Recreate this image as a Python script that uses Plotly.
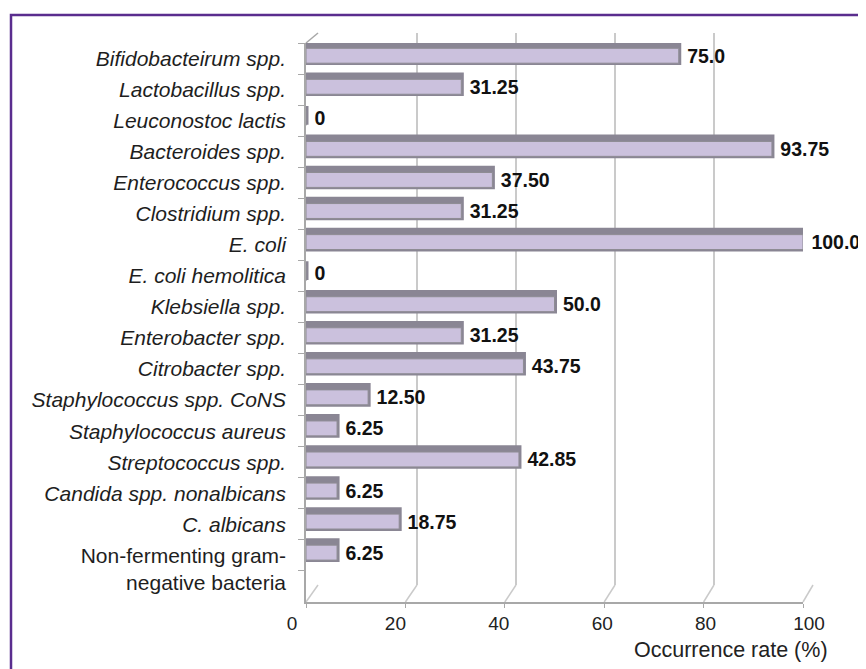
import plotly.graph_objects as go

categories = [
    "Bifidobacteirum spp.", "Lactobacillus spp.", "Leuconostoc lactis", "Bacteroides spp.",
    "Enterococcus spp.", "Clostridium spp.", "E. coli", "E. coli hemolitica",
    "Klebsiella spp.", "Enterobacter spp.", "Citrobacter spp.", "Staphylococcus spp. CoNS",
    "Staphylococcus aureus", "Streptococcus spp.", "Candida spp. nonalbicans", "C. albicans",
    "Non-fermenting gram-negative bacteria",
]
values = [75.0, 31.25, 0, 93.75, 37.50, 31.25, 100.0, 0, 50.0, 31.25, 43.75, 12.50, 6.25,
          42.85, 6.25, 18.75, 6.25]
value_labels = ["75.0", "31.25", "0", "93.75", "37.50", "31.25", "100.0", "0", "50.0", "31.25",
                "43.75", "12.50", "6.25", "42.85", "6.25", "18.75", "6.25"]
tick_values = [0, 20, 40, 60, 80, 100]

W, H = 866, 669
OFF = 8  # page body margin
FONT = "Liberation Sans, Arial, sans-serif"

def px(x):
    return (x - OFF) / W

def py(y):
    return 1 - (y - OFF) / H

# pixel extents (in the screenshot) of the pseudo-3D frame
XF = (306, 803)   # front (bars)
XB = (318, 813)   # back wall (grid)
XL = (292, 809)   # tick labels
YF = (43, 602)
YB = (33, 585)

tick_text = []
for c in categories:
    if c.startswith("Non-fermenting"):
        tick_text.append(" <br>Non-fermenting gram-<br>negative bacteria")
    else:
        tick_text.append("<i>" + c + "</i>")

fig = go.Figure()

# back-wall grid subplot (drawn first, below the bars)
fig.add_trace(go.Scatter(x=[0], y=[0], xaxis="x", yaxis="y", mode="markers",
                         marker=dict(opacity=0), hoverinfo="skip", showlegend=False))
# shadow (3D top/end) bar
fig.add_trace(go.Bar(
    x=values, y=categories, orientation="h", xaxis="x2", yaxis="y2",
    width=0.6, offset=-0.47,
    marker=dict(color="#8a8694", line=dict(color="#8a8694", width=5)),
    hoverinfo="skip", showlegend=False,
))
# front face
fig.add_trace(go.Bar(
    x=values, y=categories, orientation="h", xaxis="x2", yaxis="y2",
    width=0.48, offset=-0.33,
    marker=dict(color="#cbc1dd", line=dict(color="#8e8c94", width=1)),
    text=value_labels, texttemplate="\u00a0%{text}", textposition="outside",
    constraintext="none", cliponaxis=False,
    textfont=dict(family=FONT, size=19.5, color="#111111", weight="bold"),
    showlegend=False,
))
# tick-label axis
fig.add_trace(go.Scatter(x=[0], y=[categories[0]], xaxis="x3", yaxis="y2", mode="markers",
                         marker=dict(opacity=0), hoverinfo="skip", showlegend=False))

fig.update_layout(
    template="none",
    width=W, height=H,
    margin=dict(l=0, r=0, t=0, b=0, autoexpand=False),
    paper_bgcolor="white", plot_bgcolor="rgba(0,0,0,0)",
    barmode="overlay",
    font=dict(family=FONT, size=19, color="#222222"),
    xaxis=dict(domain=[px(XB[0]), px(XB[1])], range=[0, 100], anchor="y",
               showgrid=True, gridcolor="#cacaca", gridwidth=2, tickvals=tick_values,
               showticklabels=False, zeroline=False, showline=False, ticks="", automargin=False),
    yaxis=dict(domain=[py(YB[1]), py(YB[0])], range=[0, 1], anchor="x",
               showgrid=False, showticklabels=False, zeroline=False, showline=False, ticks="",
               automargin=False),
    xaxis2=dict(domain=[px(XF[0]), px(XF[1])], range=[0, 100], showgrid=False, zeroline=False,
                showline=True, linecolor="#a8a8a8", linewidth=1.5, ticks="outside",
                tickvals=tick_values, ticklen=4, tickcolor="#a8a8a8", showticklabels=False,
                anchor="y2", automargin=False),
    yaxis2=dict(domain=[py(YF[1]), py(YF[0])], type="category", categoryarray=categories,
                range=[17.5, -0.5], tickvals=categories, ticktext=tick_text,
                showgrid=False, zeroline=False, showline=True, linecolor="#a8a8a8", linewidth=1.5,
                ticks="outside", tickson="boundaries", ticklen=6, tickcolor="#a8a8a8",
                tickfont=dict(size=21, color="#1e1e1e"), ticklabelstandoff=14, anchor="x2",
                automargin=False),
    xaxis3=dict(domain=[px(XL[0]), px(XL[1])], range=[0, 100], anchor="y2",
                tickvals=tick_values, showgrid=False, zeroline=False, showline=False, ticks="",
                tickfont=dict(size=19, color="#222222"), ticklabelstandoff=8, side="bottom",
                automargin=False),
)

shapes = []
# outer purple frame
shapes.append(dict(type="rect", xref="paper", yref="paper", x0=px(11), y0=-0.05, x1=1.05, y1=py(15),
                   line=dict(color="#5a2d8e", width=2.5), fillcolor="rgba(0,0,0,0)", layer="above"))
# perspective diagonals floor front -> back wall
for v in tick_values:
    xf = XF[0] + (XF[1] - XF[0]) * v / 100
    xb = XB[0] + (XB[1] - XB[0]) * v / 100
    shapes.append(dict(type="line", xref="paper", yref="paper", x0=px(xf), y0=py(YF[1]),
                       x1=px(xb), y1=py(YB[1]), line=dict(color="#cacaca", width=1.5), layer="below"))
# top-left diagonal
shapes.append(dict(type="line", xref="paper", yref="paper", x0=px(XF[0]), y0=py(YF[0]),
                   x1=px(XB[0]), y1=py(YB[0]), line=dict(color="#a8a8a8", width=1.5), layer="below"))
fig.update_layout(shapes=shapes)

fig.add_annotation(text="Occurrence rate (%)", xref="paper", yref="paper", x=px(830), y=py(650),
                   xanchor="right", yanchor="middle", showarrow=False,
                   font=dict(family=FONT, size=21.5, color="#222222"))

fig.write_html("out.html")
